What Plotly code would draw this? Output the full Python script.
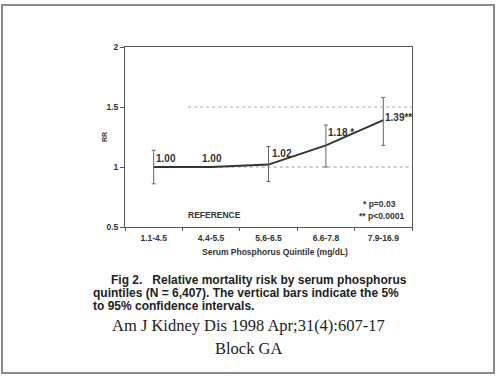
import plotly.graph_objects as go

# ---- data ----
categories = ["1.1-4.5", "4.4-5.5", "5.6-6.5", "6.6-7.8", "7.9-16.9"]
rr = [1.00, 1.00, 1.02, 1.18, 1.39]
ci_low = [0.86, None, 0.88, 1.00, 1.18]
ci_high = [1.14, None, 1.17, 1.35, 1.58]
rr_labels = ["1.00", "1.00", "1.02", "1.18 *", "1.39**"]
y_ticks = [0.5, 1, 1.5, 2]
y_ticklabels = ["0.5", "1", "1.5", "2"]

caption_lines = [
    "Fig 2.   Relative mortality risk by serum phosphorus",
    "quintiles (N = 6,407). The vertical bars indicate the 5%",
    "to 95% confidence intervals.",
]
citation = ["Am J Kidney Dis 1998 Apr;31(4):607-17", "Block GA"]

# ---- layout geometry (pixels) ----
W, H = 496, 377
L, R, T, B = 125, 84, 47, 150
PW, PH = W - L - R, H - T - B


def px(x):
    return (x - L) / PW


def py(y):
    return (H - B - y) / PH


INK = "#333333"
SANS = "Liberation Sans, Arial, sans-serif"
SERIF = "Liberation Serif, Times New Roman, serif"

fig = go.Figure()

# main line
fig.add_trace(go.Scatter(
    x=categories, y=rr, mode="lines",
    line=dict(color=INK, width=2),
    showlegend=False,
))

# error bars (only where a CI exists)
ci_idx = [i for i in range(len(categories)) if ci_low[i] is not None]
fig.add_trace(go.Scatter(
    x=[categories[i] for i in ci_idx],
    y=[rr[i] for i in ci_idx],
    mode="markers",
    marker=dict(size=1, color="rgba(0,0,0,0)"),
    error_y=dict(
        type="data", symmetric=False,
        array=[ci_high[i] - rr[i] for i in ci_idx],
        arrayminus=[rr[i] - ci_low[i] for i in ci_idx],
        color="#666666", thickness=1, width=2,
    ),
    showlegend=False, hoverinfo="skip",
))

# dotted reference lines
fig.add_shape(type="line", xref="x", yref="y", x0=0, x1=4.5, y0=1, y1=1,
              line=dict(color="#999999", width=1, dash="dot"), layer="below")
fig.add_shape(type="line", xref="x", yref="y", x0=0.6, x1=4.5, y0=1.5, y1=1.5,
              line=dict(color="#aaaaaa", width=1, dash="dot"), layer="below")

# data labels
label_style = [
    dict(xanchor="left", yanchor="bottom", xshift=0, yshift=1),
    dict(xanchor="center", yanchor="bottom", xshift=1, yshift=1),
    dict(xanchor="left", yanchor="bottom", xshift=1, yshift=4),
    dict(xanchor="left", yanchor="bottom", xshift=0, yshift=5),
    dict(xanchor="left", yanchor="middle", xshift=0, yshift=3),
]
for c, v, t, st in zip(categories, rr, rr_labels, label_style):
    fig.add_annotation(x=c, y=v, xref="x", yref="y", text="<b>%s</b>" % t,
                       showarrow=False, font=dict(family=SANS, size=10, color=INK),
                       **st)

small = dict(family=SANS, size=8.5, color=INK)
fig.add_annotation(x=px(214), y=py(215), xref="paper", yref="paper",
                   text="<b>REFERENCE</b>", showarrow=False, font=small,
                   xanchor="center", yanchor="middle")
fig.add_annotation(x=px(361), y=py(204), xref="paper", yref="paper",
                   text="<b>* p=0.03</b>", showarrow=False, font=small,
                   xanchor="left", yanchor="middle")
fig.add_annotation(x=px(357), y=py(216), xref="paper", yref="paper",
                   text="<b>** p<0.0001</b>", showarrow=False, font=small,
                   xanchor="left", yanchor="middle")

# axis titles
fig.add_annotation(x=px(275), y=py(252), xref="paper", yref="paper",
                   text="<b>Serum Phosphorus Quintile (mg/dL)</b>", showarrow=False,
                   font=small, xanchor="center", yanchor="middle")
fig.add_annotation(x=px(104), y=py(137), xref="paper", yref="paper",
                   text="<b>RR</b>", showarrow=False, textangle=-90,
                   font=dict(family=SANS, size=7, color=INK),
                   xanchor="center", yanchor="middle")

# caption
cap_font = dict(family=SANS, size=12, color="#222222")
cap_pos = [(110, 280), (92, 293), (92, 305.5)]
for line, (cx, cy) in zip(caption_lines, cap_pos):
    fig.add_annotation(x=px(cx), y=py(cy), xref="paper", yref="paper",
                       text="<b>%s</b>" % line, showarrow=False, font=cap_font,
                       xanchor="left", yanchor="middle", borderpad=0)

cit_font = dict(family=SERIF, size=16.5, color="#222222")
for line, cy in zip(citation, [325, 348]):
    fig.add_annotation(x=px(248), y=py(cy), xref="paper", yref="paper",
                       text=line, showarrow=False, font=cit_font,
                       xanchor="center", yanchor="middle")

# outer frame
fig.add_shape(type="rect", xref="paper", yref="paper",
              x0=px(2), x1=px(494), y0=py(373), y1=py(5),
              line=dict(color="#8a8a8a", width=2))

fig.update_layout(
    width=W, height=H,
    margin=dict(l=L, r=R, t=T, b=B),
    paper_bgcolor="white", plot_bgcolor="white",
    showlegend=False,
)
fig.update_xaxes(
    type="category", categoryorder="array", categoryarray=categories,
    range=[-0.5, 4.5],
    showline=True, linecolor="#555555", linewidth=1, mirror=True,
    ticks="outside", ticklen=3, tickcolor="#555555", tickson="boundaries",
    ticklabelstandoff=3,
    showgrid=False, zeroline=False,
    tickfont=dict(family=SANS, size=8.5, color=INK),
    tickprefix="<b>", ticksuffix="</b>",
)
fig.update_yaxes(
    range=[0.5, 2], tickvals=y_ticks, ticktext=["<b>%s</b>" % t for t in y_ticklabels],
    showline=True, linecolor="#555555", linewidth=1, mirror=True,
    ticks="outside", ticklen=4, tickcolor="#555555",
    showgrid=False, zeroline=False,
    tickfont=dict(family=SANS, size=8.5, color=INK),
)

fig.write_html("out.html")
